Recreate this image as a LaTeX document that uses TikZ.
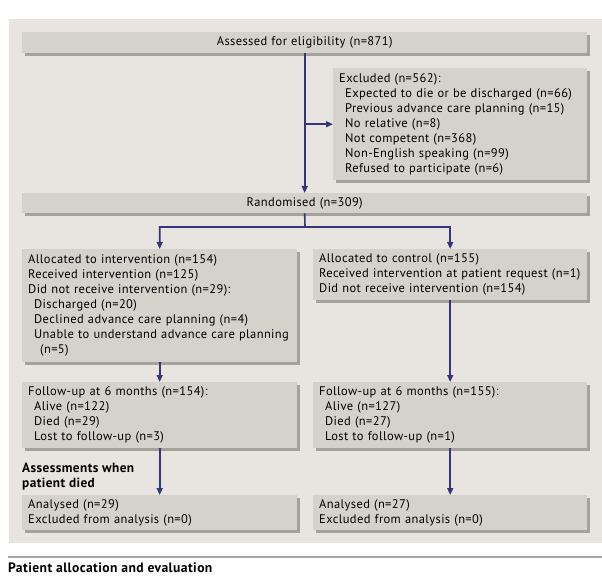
\documentclass[tikz,border=0pt]{standalone}
\usepackage{fontspec}
\setmainfont{PT Sans}[LetterSpace=3]
\usetikzlibrary{shadows,arrows.meta}
\hyphenpenalty=10000
\definecolor{panelgray}{HTML}{E8E5E1}
\definecolor{boxgray}{HTML}{D5D2CC}
\definecolor{shadegray}{HTML}{A5A19C}
\definecolor{flownavy}{HTML}{34357A}
\definecolor{rulegray}{HTML}{A8A8A8}
\tikzset{
  flowbox/.style={fill=boxgray, anchor=north west, align=left, inner xsep=6pt, inner ysep=0pt,
    font=\fontsize{12.5}{15}\selectfont,
    drop shadow={shadow xshift=2.5pt, shadow yshift=-2.5pt, fill=shadegray, opacity=1}},
  flowline/.style={draw=flownavy, line width=1.6pt},
  flowarrow/.style={flowline, -{Triangle[length=7pt,width=6pt]}}
}
\newcommand{\indt}{\hspace*{6pt}}
\begin{document}
\begin{tikzpicture}[x=1pt, y=-1pt]
    \useasboundingbox (0,0) rectangle (602,585);
    \fill[panelgray] (9,19) rectangle (602,543);
    \node[flowbox, align=center, text width=553pt, minimum height=21pt] (v1) at (22,32) {Assessed for eligibility (n=871)};
    \node[flowbox, text width=242pt, minimum height=112pt] (v2) at (333,68) {Excluded (n=562):\\
      \indt Expected to die or be discharged (n=66)\\
      \indt Previous advance care planning (n=15)\\
      \indt No relative (n=8)\\
      \indt Not competent (n=368)\\
      \indt Non-English speaking (n=99)\\
      \indt Refused to participate (n=6)};
    \node[flowbox, align=center, text width=553pt, minimum height=20pt] (v3) at (22,193) {Randomised (n=309)};
    \node[flowbox, text width=263pt, minimum height=113pt] (v4) at (22,249) {Allocated to intervention (n=154)\\
      Received intervention (n=125)\\
      Did not receive intervention (n=29):\\
      \indt Discharged (n=20)\\
      \indt Declined advance care planning (n=4)\\
      \indt Unable to understand advance care planning\\
      \indt\indt (n=5)};
    \node[flowbox, text width=262pt, minimum height=51pt] (v5) at (313,249) {Allocated to control (n=155)\\
      Received intervention at patient request (n=1)\\
      Did not receive intervention (n=154)};
    \node[flowbox, text width=263pt, minimum height=66pt] (v6) at (22,382) {Follow-up at 6 months (n=154):\\
      \indt Alive (n=122)\\
      \indt Died (n=29)\\
      \indt Lost to follow-up (n=3)};
    \node[flowbox, text width=262pt, minimum height=66pt] (v7) at (313,382) {Follow-up at 6 months (n=155):\\
      \indt Alive (n=127)\\
      \indt Died (n=27)\\
      \indt Lost to follow-up (n=1)};
    \node[anchor=north west, align=left, inner sep=0pt, font=\bfseries\fontsize{13.3}{15}\selectfont] (v10) at (22,463) {Assessments when\\patient died};
    \node[flowbox, text width=263pt, minimum height=35pt] (v8) at (22,495) {Analysed (n=29)\\
      Excluded from analysis (n=0)};
    \node[flowbox, text width=262pt, minimum height=35pt] (v9) at (313,495) {Analysed (n=27)\\
      Excluded from analysis (n=0)};
    \coordinate (v11) at (305,227);
    \draw[flowarrow] (v1.south) -- (v3.north);
    \draw[flowarrow] (v1.south |- v2.west) -- (v2.west);
    \draw[flowarrow] (v3.south) -- (v11) -| (v4.north);
    \draw[flowarrow] (v11) -| (v5.north);
    \draw[flowarrow] (v4.south) -- (v6.north);
    \draw[flowarrow] (v5.south) -- (v7.north);
    \draw[flowarrow] (v6.south) -- (v8.north);
    \draw[flowarrow] (v7.south) -- (v9.north);
    \draw[rulegray, line width=1.5pt] (8,557) -- (602,557);
    \node[anchor=west, inner sep=0pt, font=\bfseries\fontsize{13.6}{16}\selectfont] (v12) at (8,568) {Patient allocation and evaluation};
    \end{tikzpicture}
\end{document}
